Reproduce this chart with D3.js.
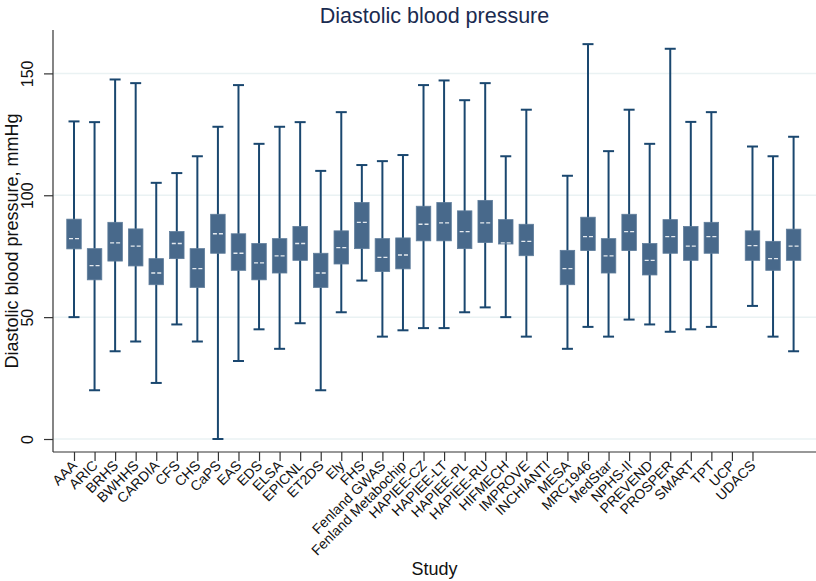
<!DOCTYPE html>
<html>
<head>
<meta charset="utf-8">
<style>
  body { margin: 0; background: #ffffff; font-family: Arial, "Liberation Sans", sans-serif; }
  .axis path.domain { stroke: #333333; stroke-width: 1.2px; }
  .axis .tick line { stroke: #333333; stroke-width: 1.2px; }
  .axis .tick text { fill: #111111; }
</style>
</head>
<body>
<svg id="chart" width="816" height="581"></svg>
<script src="https://cdnjs.cloudflare.com/ajax/libs/d3/7.8.5/d3.min.js"></script>
<script>
// studies (last two positions carry no label in the original)
var studies = ["AAA","ARIC","BRHS","BWHHS","CARDIA","CFS","CHS","CaPS","EAS","EDS",
  "ELSA","EPICNL","ET2DS","Ely","FHS","Fenland GWAS","Fenland Metabochip","HAPIEE-CZ",
  "HAPIEE-LT","HAPIEE-PL","HAPIEE-RU","HIFMECH","IMPROVE","INCHIANTI","MESA","MRC1946",
  "MedStar","NPHS-II","PREVEND","PROSPER","SMART","TPT","UCP","UDACS","",""];

// whisker ends and box quartiles, mmHg (null = no data)
var lowAdj = [50,20,36,40,23,47,40,0,32,45, 37,47.5,20,52,65,42,44.6,45.5, 45.5,52,54,50,42,null,37,46, 42,49,47,44,45,46,null,54.6,42,36];
var q25    = [78,65.3,73,71,63.3,74,62.2,76.2,69.2,65.3, 68.1,73.3,62.2,71.8,78.1,68.7,69.8,81.3, 81.3,78.1,80.6,80,75.2,null,63.3,77.3, 68.1,77.3,67.3,76.2,73.3,76.2,null,73.3,69.2,73.3];
var med    = [82.2,71.1,80.5,79.1,68.1,80.2,69.9,84.2,76.2,72.3, 75.1,80.2,68.1,78.5,88.9,74.5,75.5,88.1, 88.7,85.1,88.7,80.5,81.1,null,69.9,83, 75.1,85.1,73.3,83,79.1,83,null,79.3,74,79.1];
var q75    = [90.2,78.1,88.9,86.2,74,85.1,78.1,92.2,84.2,80.2, 82.2,87.2,76.2,85.4,97,82.2,82.5,95.5, 97,93.6,97.9,90,88.1,null,77.4,91, 82.2,92.2,80.2,90,87.2,88.9,null,85.4,81.1,86.1];
var highAdj= [130.3,130,147.5,146,105.1,109.1,116,128.1,145.2,121.1, 128.1,130,110,134.1,112.4,114,116.5,145.2, 147.1,139,146,116,135.1,null,108,162, 118.1,135.1,121.1,160.1,130.1,134.1,null,120,116,124];

var yTicks = [0, 50, 100, 150];

var svg = d3.select("#chart");
var plotL = 53, plotR = 816, plotT = 30, plotB = 452;

var idx = d3.range(studies.length);
var x = d3.scalePoint().domain(idx).range([74, 793.6]);
var y = d3.scaleLinear().domain([-5.33, 167.8]).range([plotB, plotT]);

// gridlines
svg.append("g").selectAll("line").data(yTicks).enter().append("line")
  .attr("x1", plotL).attr("x2", plotR)
  .attr("y1", function(d){ return y(d); }).attr("y2", function(d){ return y(d); })
  .attr("stroke", "#eaf2f3").attr("stroke-width", 1.5);

// y axis
var yAxis = svg.append("g").attr("class", "axis")
  .attr("transform", "translate(" + plotL + ",0)")
  .call(d3.axisLeft(y).tickValues(yTicks).tickSize(9).tickSizeOuter(0));
yAxis.select(".domain").attr("d", "M0," + plotT + "V" + plotB);
yAxis.selectAll(".tick text")
  .attr("transform", "rotate(-90)")
  .attr("x", 0).attr("y", -20).attr("dy", 0)
  .style("text-anchor", "middle")
  .style("font-size", "16px");

// x axis
var labelled = idx.filter(function(i){ return studies[i] !== ""; });
var xAxis = svg.append("g").attr("class", "axis")
  .attr("transform", "translate(0," + plotB + ")")
  .call(d3.axisBottom(x).tickValues(labelled).tickSize(9).tickSizeOuter(0)
    .tickFormat(function(i){ return studies[i]; }));
xAxis.select(".domain").attr("d", "M" + plotL + ",0H" + plotR);
xAxis.selectAll(".tick text")
  .attr("transform", "translate(0,11) rotate(-45)")
  .attr("x", 0).attr("y", 0).attr("dy", "0.35em")
  .style("text-anchor", "end")
  .style("font-size", "14px");

// boxes
var rows = idx.filter(function(i){ return med[i] !== null; });
var g = svg.append("g");
var bw = 14.5, cw = 11;

g.selectAll(".whisker").data(rows).enter().append("line")
  .attr("x1", function(i){ return x(i); }).attr("x2", function(i){ return x(i); })
  .attr("y1", function(i){ return y(lowAdj[i]); }).attr("y2", function(i){ return y(highAdj[i]); })
  .attr("stroke", "#1a476f").attr("stroke-width", 2);

["low", "high"].forEach(function(k){
  var arr = k === "low" ? lowAdj : highAdj;
  g.selectAll(".cap-" + k).data(rows).enter().append("line")
    .attr("x1", function(i){ return x(i) - cw / 2; }).attr("x2", function(i){ return x(i) + cw / 2; })
    .attr("y1", function(i){ return y(arr[i]); }).attr("y2", function(i){ return y(arr[i]); })
    .attr("stroke", "#1a476f").attr("stroke-width", 2);
});

g.selectAll(".box").data(rows).enter().append("rect")
  .attr("x", function(i){ return x(i) - bw / 2; })
  .attr("y", function(i){ return y(q75[i]); })
  .attr("width", bw)
  .attr("height", function(i){ return y(q25[i]) - y(q75[i]); })
  .attr("fill", "#48698b").attr("stroke", "#5f7d9b").attr("stroke-width", 0.8);

g.selectAll(".median").data(rows).enter().append("line")
  .attr("x1", function(i){ return x(i) - 5; }).attr("x2", function(i){ return x(i) + 5; })
  .attr("y1", function(i){ return y(med[i]); }).attr("y2", function(i){ return y(med[i]); })
  .attr("stroke", "#e6ebf0").attr("stroke-width", 1.3).attr("stroke-dasharray", "4,2");

// titles
svg.append("text").attr("x", (plotL + plotR) / 2).attr("y", 23)
  .attr("text-anchor", "middle").style("font-size", "21.5px").style("fill", "#1a2b50")
  .text("Diastolic blood pressure");

svg.append("text").attr("x", (plotL + plotR) / 2).attr("y", 575)
  .attr("text-anchor", "middle").style("font-size", "18px").style("fill", "#111")
  .text("Study");

svg.append("text").attr("transform", "translate(18," + (plotT + plotB) / 2 + ") rotate(-90)")
  .attr("text-anchor", "middle").style("font-size", "18px").style("fill", "#111")
  .text("Diastolic blood pressure, mmHg");
</script>
</body>
</html>
